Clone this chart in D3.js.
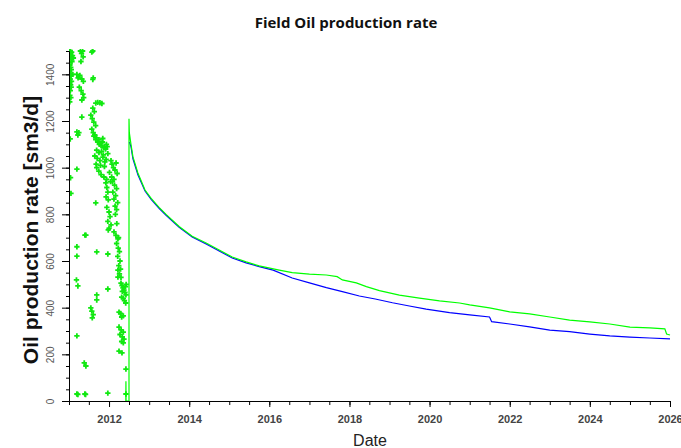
<!DOCTYPE html>
<html>
<head>
<meta charset="utf-8">
<script src="https://cdn.jsdelivr.net/npm/d3@7"></script>
<style>
  body { margin: 0; background: #fff; }
  svg { display: block; }
  .tick text { font-family: "Liberation Sans", Arial, sans-serif; }
</style>
</head>
<body>
<div id="chart"></div>
<script>
// observed rate (scatter), date + value
const obsDates = [
  "2011-01-02","2011-01-05","2011-01-08","2011-01-12","2011-01-15","2011-01-20","2011-01-25","2011-02-02","2011-01-03","2011-01-09",
  "2011-01-17","2011-01-28","2011-02-10","2011-01-06","2011-01-14","2011-01-22","2011-01-04","2011-01-11","2011-01-19","2011-02-05",
  "2011-01-07","2011-01-16","2011-01-24","2011-01-03","2011-01-13","2011-01-21","2011-01-09","2011-01-18","2011-01-08","2011-01-12",
  "2011-01-15","2011-01-19",
  "2011-04-15","2011-04-25","2011-05-10","2011-05-05","2011-04-20",
  "2011-03-14","2011-03-25","2011-04-10","2011-04-28","2011-05-12","2011-04-05","2011-04-22","2011-05-08","2011-05-15","2011-04-28","2011-04-28",
  "2011-03-14","2011-03-23","2011-04-01","2011-03-14","2011-03-14","2011-03-10","2011-03-23","2011-03-14","2011-05-26","2011-05-20","2011-06-04",
  "2011-03-14","2011-03-23","2011-05-26","2011-06-01",
  "2011-07-28","2011-08-06","2011-08-10","2011-08-06",
  "2011-09-02","2011-09-20","2011-10-10","2011-10-28","2011-08-06","2011-08-20","2011-07-19","2011-08-01","2011-08-15","2011-09-01",
  "2011-07-28","2011-08-10","2011-08-24","2011-09-10",
  "2011-08-15","2011-09-02","2011-09-20","2011-10-05","2011-10-20","2011-11-01","2011-11-15","2011-09-10","2011-10-01","2011-10-25",
  "2011-11-10","2011-12-01","2011-12-15","2011-12-21","2011-08-24","2011-09-15","2011-10-10","2011-11-06","2011-11-24","2011-12-05",
  "2011-09-05","2011-10-15","2011-11-20",
  "2011-09-11","2011-09-30","2011-10-20","2011-11-15","2011-12-10",
  "2012-01-19","2012-01-28","2012-02-10","2012-02-24","2012-03-05","2012-03-15","2012-01-25","2012-02-15",
  "2012-02-01","2012-02-20","2012-03-10","2012-02-05","2012-03-01","2012-02-15","2012-03-20","2012-02-25","2012-03-10",
  "2011-12-03","2011-12-12","2011-12-21","2011-12-05","2011-12-25",
  "2011-12-12","2012-01-01","2012-01-10","2011-12-21","2012-01-19","2012-01-01","2011-12-25",
  "2012-02-15","2012-03-04","2012-03-22",
  "2012-03-10","2012-03-25","2012-04-05","2012-03-20","2012-04-10","2012-03-30","2012-04-15","2012-04-05","2012-04-19",
  "2011-09-02","2011-06-04","2011-09-11","2011-12-21","2011-03-14","2011-09-11","2011-09-11","2011-12-21","2012-03-22","2012-03-22",
  "2012-04-19","2012-04-28","2012-05-07","2012-05-16","2012-05-25","2012-06-03","2012-04-25","2012-05-10","2012-05-20","2012-06-01",
  "2012-05-01","2012-05-30","2012-06-05",
  "2011-07-19","2011-07-28","2011-08-10","2011-08-01",
  "2012-04-01","2012-04-15","2012-05-10","2012-04-25",
  "2012-04-01","2012-04-20","2012-05-10","2012-04-10","2012-05-01","2012-05-16","2012-04-25","2012-05-10",
  "2012-04-01","2012-04-28","2012-06-03","2011-12-21","2012-06-03",
  "2011-10-01","2011-10-18","2011-11-05","2011-11-22","2011-12-08","2012-01-05","2012-01-15","2012-02-28","2012-03-12","2012-03-28"
];
const obsRate = [
  1500,1490,1475,1500,1485,1465,1495,1480,1450,1440,
  1430,1455,1470,1415,1405,1420,1390,1380,1395,1400,
  1365,1355,1370,1340,1330,1345,1310,1300,1282,1123,
  957,890,
  1500,1490,1475,1500,1455,
  1400,1385,1395,1380,1370,1345,1330,1315,1300,1290,1217,
  1153,1140,1150,994,661,519,493,279,711,163,150,
  30,28,30,28,
  1495,1500,1385,1378,
  1277,1280,1278,1275,1255,1240,1225,1210,1195,1180,
  1165,1150,1140,1128,
  1135,1120,1110,1100,1095,1110,1085,1075,1065,1070,
  1055,1080,1090,1060,1050,1040,1030,1045,1025,1035,
  1015,1010,1005,
  1000,985,970,960,950,
  1030,1015,1000,990,1020,975,960,950,
  940,925,910,895,880,865,850,835,820,
  935,915,895,875,862,
  830,810,790,770,755,740,733,
  725,710,695,
  675,655,640,620,600,580,565,545,530,
  849,711,639,630,621,455,433,480,561,531,
  505,495,485,475,465,455,445,440,430,420,
  470,490,500,
  399,385,370,356,
  381,375,365,360,
  317,305,295,285,275,265,255,249,
  214,206,137,34,30,
  1120,1105,1125,1090,1100,980,940,800,760,700
];

// history / forecast line (green)
const histDates = [
  "2012-06-02","2012-06-03","2012-06-04","2012-07-01","2012-07-01","2012-07-04","2012-07-19","2012-08-06","2012-09-20","2012-11-24",
  "2013-01-19","2013-04-01","2013-06-04","2013-10-01","2014-01-28","2014-06-04","2014-10-01","2015-01-28","2015-06-04","2015-10-01",
  "2016-04-01","2016-07-28","2017-01-01","2017-06-04","2017-09-11","2017-10-28","2018-03-04","2018-06-04","2018-10-01","2019-04-01",
  "2019-10-01","2020-04-01","2020-10-01","2021-01-01","2021-07-01","2022-01-01","2022-07-01","2023-01-01","2023-07-01","2024-01-01",
  "2024-07-01","2025-01-01","2025-07-01","2025-11-15","2025-12-01","2026-01-01"
];
const histRate = [
  0,85,0,0,1210,1150,1100,1046,977,904,
  868,830,800,748,706,677,647,617,596,579,
  561,550,544,540,533,519,506,490,473,454,
  441,429,420,412,399,382,373,360,347,339,
  330,317,313,309,287,283
];

// simulated line (blue)
const simDates = [
  "2012-07-04","2012-07-19","2012-08-06","2012-09-20","2012-11-24","2013-01-19","2013-04-01","2013-06-04","2013-10-01","2014-01-28",
  "2014-06-04","2014-10-01","2015-01-28","2015-06-04","2015-10-01","2016-02-05","2016-07-28","2017-01-01","2017-06-04","2017-10-28",
  "2018-04-01","2018-08-24","2019-01-28","2019-07-01","2019-12-01","2020-07-01","2021-01-01","2021-07-01","2021-07-20","2022-01-01",
  "2022-07-01","2023-01-01","2023-07-01","2024-01-01","2024-07-01","2025-01-01","2025-07-01","2026-01-01"
];
const simRate = [
  1110,1090,1038,970,900,864,826,796,745,703,
  673,643,613,592,576,561,527,506,486,469,
  450,437,421,407,394,379,369,360,340,330,
  318,304,297,287,279,274,270,266
];

const yTicks = [0, 200, 400, 600, 800, 1000, 1200, 1400];

const W = 681, H = 448;
const m = {top: 51, right: 11, bottom: 47, left: 69};
const parse = d3.timeParse("%Y-%m-%d");

const svg = d3.select("#chart").append("svg")
  .attr("width", W).attr("height", H);

const x = d3.scaleTime()
  .domain([parse("2011-01-01"), parse("2026-01-01")])
  .range([m.left, W - m.right]);
const y = d3.scaleLinear()
  .domain([0, 1500])
  .range([H - m.bottom, m.top]);

// clip to plot area
svg.append("clipPath").attr("id", "clip")
  .append("rect")
  .attr("x", m.left).attr("y", m.top - 2)
  .attr("width", W - m.left - m.right + 2).attr("height", H - m.top - m.bottom + 2);

const plot = svg.append("g").attr("clip-path", "url(#clip)");

// scatter (green crosses)
const obs = obsDates.map((d, i) => ({date: parse(d), v: obsRate[i]}));
plot.append("g").selectAll("path")
  .data(obs).enter().append("path")
    .attr("transform", d => `translate(${x(d.date)},${y(d.v)})`)
    .attr("d", d3.symbol(d3.symbolCross, 16))
    .attr("fill", "#11e811");

const line = d3.line().x(d => x(d.date)).y(d => y(d.v));

const sim = simDates.map((d, i) => ({date: parse(d), v: simRate[i]}));
plot.append("path")
  .datum(sim)
  .attr("d", line)
  .attr("fill", "none")
  .attr("stroke", "#0000ff")
  .attr("stroke-width", 1.2);

const hist = histDates.map((d, i) => ({date: parse(d), v: histRate[i]}));
plot.append("path")
  .datum(hist)
  .attr("d", line)
  .attr("fill", "none")
  .attr("stroke", "#00ff00")
  .attr("stroke-width", 1.2);

// x axis: labels every 2 years, minor ticks every 6 months
const xAxisG = svg.append("g")
  .attr("transform", `translate(0,${H - m.bottom})`);
xAxisG.call(d3.axisBottom(x).ticks(d3.timeMonth.every(6)).tickSize(4).tickFormat(""));
xAxisG.append("g").call(d3.axisBottom(x)
    .tickValues(d3.range(2012, 2027, 2).map(yr => new Date(yr, 0, 1)))
    .tickSize(6).tickPadding(8)
    .tickFormat(d3.timeFormat("%Y")))
  .call(g => g.select(".domain").remove());
xAxisG.selectAll("text")
  .attr("font-size", 11).attr("font-weight", "bold").attr("fill", "#444");
xAxisG.selectAll("line, path").attr("stroke", "#000");

// y axis: rotated labels, minor ticks every 50
const yAxisG = svg.append("g").attr("transform", `translate(${m.left},0)`);
yAxisG.call(d3.axisLeft(y).tickValues(d3.range(0, 1501, 50)).tickSize(3).tickFormat(""));
yAxisG.append("g").call(d3.axisLeft(y).tickValues(yTicks).tickSize(7).tickFormat(d3.format("d")))
  .call(g => g.select(".domain").remove())
  .selectAll("text")
    .attr("font-size", 10).attr("fill", "#555")
    .attr("text-anchor", "middle")
    .attr("x", 0).attr("y", 0).attr("dy", 0)
    .attr("transform", "translate(-15,0) rotate(-90)");
yAxisG.selectAll("line, path").attr("stroke", "#000");

// titles
svg.append("text")
  .attr("x", 346).attr("y", 28)
  .attr("text-anchor", "middle")
  .attr("font-family", "'Open Sans', sans-serif")
  .attr("font-weight", "bold").attr("font-size", 15)
  .attr("fill", "#111")
  .text("Field Oil production rate");

svg.append("text")
  .attr("transform", `translate(38,230) rotate(-90)`)
  .attr("text-anchor", "middle")
  .attr("font-family", "'Liberation Sans', Arial, sans-serif")
  .attr("font-weight", "bold").attr("font-size", 21)
  .attr("fill", "#111")
  .text("Oil production rate [sm3/d]");

svg.append("text")
  .attr("x", 370).attr("y", 446)
  .attr("text-anchor", "middle")
  .attr("font-family", "'Liberation Sans', Arial, sans-serif")
  .attr("font-size", 16)
  .attr("fill", "#222")
  .text("Date");
</script>
</body>
</html>
